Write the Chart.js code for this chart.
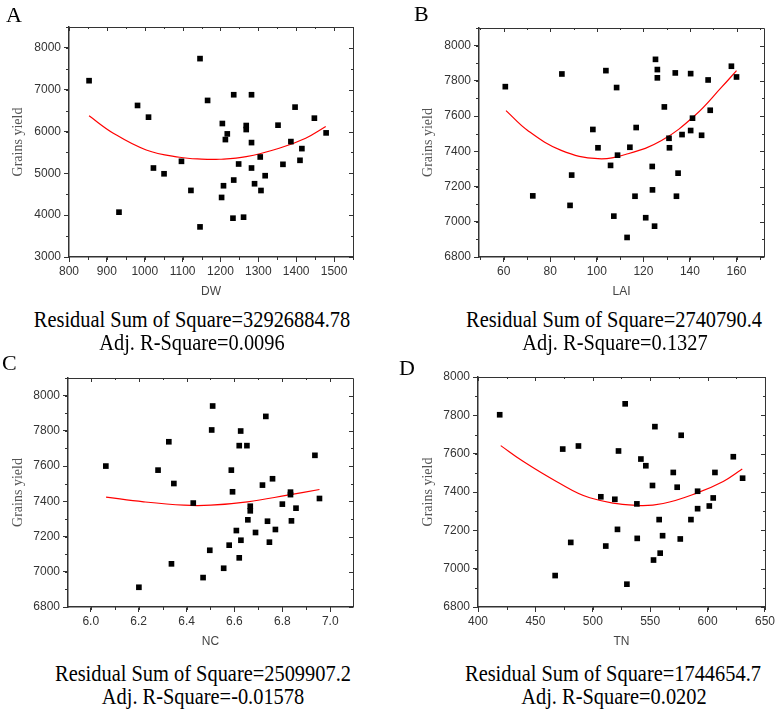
<!DOCTYPE html>
<html>
<head>
<meta charset="utf-8">
<script src="https://cdn.jsdelivr.net/npm/chart.js@4/dist/chart.umd.min.js"></script>
<style>
  html, body { margin: 0; padding: 0; background: #fff; }
  #page { position: relative; width: 777px; height: 712px; overflow: hidden; }
  canvas { position: absolute; }
  .letter, .note { position: absolute; font-family: "Liberation Serif", "Times New Roman", serif; color: #000; line-height: 1; white-space: nowrap; }
  .letter { font-size: 22px; }
  /* the printed captions are a little narrower than plain Times */
  .note { font-size: 24px; transform: translateX(-50%) scaleX(0.85); }
</style>
</head>
<body>
<div id="page">
  <canvas id="chartA" width="388" height="305" style="left:0;top:0"></canvas>
  <canvas id="chartB" width="367" height="305" style="left:410px;top:0"></canvas>
  <canvas id="chartC" width="388" height="305" style="left:0;top:350px"></canvas>
  <canvas id="chartD" width="367" height="305" style="left:410px;top:350px"></canvas>

  <div class="letter" style="left:6px;top:4px">A</div>
  <div class="letter" style="left:414px;top:3px">B</div>
  <div class="letter" style="left:2px;top:352px">C</div>
  <div class="letter" style="left:399px;top:357px">D</div>

  <div class="note" style="left:192px;top:307px">Residual Sum of Square=32926884.78</div>
  <div class="note" style="left:192px;top:330px">Adj. R-Square=0.0096</div>
  <div class="note" style="left:614px;top:307px">Residual Sum of Square=2740790.4</div>
  <div class="note" style="left:615px;top:330px">Adj. R-Square=0.1327</div>
  <div class="note" style="left:203px;top:661px">Residual Sum of Square=2509907.2</div>
  <div class="note" style="left:203px;top:684px">Adj. R-Square=-0.01578</div>
  <div class="note" style="left:613px;top:661px">Residual Sum of Square=1744654.7</div>
  <div class="note" style="left:614px;top:684px">Adj. R-Square=0.0202</div>
</div>

<script>
// A: DW vs grains yield
const dwX = [853, 932, 981, 1010, 1023, 1051, 1097, 1122, 1146, 1146, 1166, 1205, 1203, 1208, 1213, 1218, 1235, 1235, 1233, 1248,
  1261, 1268, 1268, 1282, 1282, 1282, 1290, 1305, 1307, 1318, 1352, 1365, 1386, 1397, 1410, 1415, 1448, 1479];
const dwY = [7216, 4072, 6624, 6344, 5128, 4990, 5288, 4592, 7744, 3720, 6744, 6192, 4424, 4704, 5808, 5944, 6880, 4840, 3928, 5224,
  3952, 6144, 6048, 6880, 5736, 5128, 4752, 5392, 4590, 4944, 6152, 5216, 5760, 6584, 5312, 5592, 6320, 5968];
const dwFitX = [853, 917, 1004, 1092, 1150, 1197, 1268, 1355, 1425, 1478];
const dwFitY = [6376, 5961, 5560, 5385, 5340, 5337, 5399, 5601, 5841, 6119];
const dwTicks = [800, 900, 1000, 1100, 1200, 1300, 1400, 1500];
const yTicksA = [3000, 4000, 5000, 6000, 7000, 8000];

// B: LAI vs grains yield
const laiX = [60.7, 72.5, 85, 88.5, 89.2, 98.3, 100.5, 103.9, 105.9, 107.3, 108.5, 108.9, 113, 114.2, 116.4, 116.9, 121, 123.8, 123.9,
  124.8, 125.2, 126, 126, 129, 131, 131.2, 133.7, 134.2, 134.9, 136.6, 140.3, 140.3, 141.1, 145, 147.8, 148.7, 157.8, 160];
const laiY = [7767, 7147, 7839, 7093, 7265, 7524, 7420, 7858, 7320, 7032, 7762, 7378, 6911, 7423, 7145, 7535, 7023, 7314, 7181,
  6975, 7922, 7864, 7817, 7652, 7474, 7420, 7845, 7145, 7276, 7495, 7841, 7518, 7588, 7491, 7805, 7633, 7883, 7822];
const laiFitX = [61, 70.3, 84.7, 100.5, 113.4, 127.8, 142.1, 153.6, 160];
const laiFitY = [7631, 7518, 7405, 7358, 7386, 7461, 7603, 7764, 7858];
const laiTicks = [60, 80, 100, 120, 140, 160];

// C: NC vs grains yield
const ncX = [6.063, 6.201, 6.281, 6.326, 6.337, 6.347, 6.428, 6.469, 6.497, 6.505, 6.509, 6.555, 6.578, 6.587, 6.592, 6.608, 6.620,
  6.620, 6.626, 6.627, 6.652, 6.656, 6.666, 6.666, 6.688, 6.717, 6.731, 6.738, 6.746, 6.759, 6.771, 6.800, 6.834, 6.834, 6.838,
  6.857, 6.936, 6.955];
const ncY = [7600, 6912, 7577, 7738, 7045, 7501, 7390, 6967, 7122, 7805, 7941, 7020, 7151, 7577, 7454, 7234, 7716,
  7079, 7799, 7179, 7716, 7295, 7372, 7346, 7223, 7492, 7882, 7287, 7168, 7528, 7240, 7384, 7452, 7438, 7289,
  7361, 7661, 7416];
const ncFitX = [6.064, 6.221, 6.389, 6.501, 6.654, 6.822, 6.955];
const ncFitY = [7424, 7397, 7378, 7378, 7397, 7435, 7467];
const ncTicks = [6.0, 6.2, 6.4, 6.6, 6.8, 7.0];

// D: TN vs grains yield
const tnX = [418.9, 467.2, 473.8, 480.8, 487.5, 507, 511.3, 519.2, 521.5, 522.4, 528.2, 529.7, 538.4, 538.7, 541.9, 546.2, 552,
  552.9, 554.1, 557.8, 558.7, 560.8, 570.1, 573.5, 576.2, 577, 585.5, 591.3, 591.3, 601.5, 604.9, 606.4, 622.4, 630.5];
const tnY = [7803, 6964, 7624, 7137, 7640, 7375, 7118, 7362, 7205, 7614, 7860, 6919, 7338, 7158, 7572, 7537, 7434,
  7045, 7741, 7256, 7081, 7172, 7502, 7425, 7155, 7696, 7256, 7313, 7404, 7327, 7369, 7502, 7584, 7472];
const tnFitX = [419.8, 439.2, 468.3, 497.4, 538.1, 561.3, 590.4, 613.6, 630.2];
const tnFitY = [7642, 7560, 7455, 7370, 7330, 7340, 7394, 7455, 7520];
const tnTicks = [400, 450, 500, 550, 600, 650];

// shared y ticks for B, C, D
const yTicksBCD = [6800, 7000, 7200, 7400, 7600, 7800, 8000];

const INK = "#333";

// box around the plot, inward ticks on top/right, minor ticks everywhere
const framePlugin = {
  id: "frame",
  afterDraw(chart, args, opts) {
    const { ctx, chartArea: a, scales: { x, y } } = chart;
    ctx.save();
    ctx.strokeStyle = INK;
    ctx.lineWidth = 1;
    ctx.beginPath();
    ctx.moveTo(a.left, a.top + 0.5);
    ctx.lineTo(a.right + 0.5, a.top + 0.5);
    ctx.lineTo(a.right + 0.5, a.bottom);
    ctx.stroke();

    ctx.beginPath();
    x.ticks.forEach(t => {
      const px = Math.round(x.getPixelForValue(t.value)) + 0.5;
      ctx.moveTo(px, a.top); ctx.lineTo(px, a.top + 4);
    });
    y.ticks.forEach(t => {
      const py = Math.round(y.getPixelForValue(t.value)) + 0.5;
      ctx.moveTo(a.right, py); ctx.lineTo(a.right - 4, py);
    });
    for (let v = Math.ceil(x.min / opts.xMinor) * opts.xMinor; v <= x.max; v += opts.xMinor) {
      const px = Math.round(x.getPixelForValue(v)) + 0.5;
      ctx.moveTo(px, a.bottom); ctx.lineTo(px, a.bottom + 3);
      ctx.moveTo(px, a.top); ctx.lineTo(px, a.top + 2);
    }
    for (let v = Math.ceil(y.min / opts.yMinor) * opts.yMinor; v <= y.max; v += opts.yMinor) {
      const py = Math.round(y.getPixelForValue(v)) + 0.5;
      ctx.moveTo(a.left, py); ctx.lineTo(a.left - 3, py);
      ctx.moveTo(a.right, py); ctx.lineTo(a.right - 2, py);
    }
    ctx.stroke();
    ctx.restore();
  }
};

function makePanel(id, xs, ys, fitX, fitY, ax) {
  const el = document.getElementById(id);
  if (!el) return;
  const sans = { family: "'Liberation Sans', Arial, sans-serif", size: 12 };
  try {
    new Chart(el, {
      type: "scatter",
      data: {
        datasets: [
          {
            data: xs.map((v, i) => ({ x: v, y: ys[i] })),
            pointStyle: "rect",
            pointRadius: 4,
            pointBorderWidth: 0,
            backgroundColor: "#000",
            borderColor: "#000"
          },
          {
            type: "line",
            data: fitX.map((v, i) => ({ x: v, y: fitY[i] })),
            borderColor: "#ff0000",
            borderWidth: 1.2,
            pointRadius: 0,
            tension: 0.4,
            fill: false
          }
        ]
      },
      options: {
        responsive: false,
        animation: false,
        devicePixelRatio: 1,
        layout: { padding: { top: ax.padTop, right: ax.padRight, left: 0, bottom: 0 } },
        plugins: {
          legend: { display: false },
          tooltip: { enabled: false },
          frame: { xMinor: ax.xMinor, yMinor: ax.yMinor }
        },
        scales: {
          x: {
            type: "linear",
            min: ax.xMin, max: ax.xMax,
            afterBuildTicks: s => { s.ticks = ax.xTicks.map(v => ({ value: v })); },
            afterFit: s => { s.height = 48; },
            border: { display: true, color: INK, width: 1.5 },
            grid: { drawOnChartArea: false, drawTicks: true, tickLength: 5, color: INK },
            ticks: {
              autoSkip: false, maxRotation: 0, padding: 2, color: INK, font: sans,
              callback: v => ax.xDigits ? Number(v).toFixed(ax.xDigits) : String(v)
            },
            title: {
              display: true, text: ax.xTitle, color: "#444", font: sans,
              padding: { top: 0, bottom: 6 }
            }
          },
          y: {
            type: "linear",
            min: ax.yMin, max: ax.yMax,
            afterBuildTicks: s => { s.ticks = ax.yTicks.map(v => ({ value: v })); },
            afterFit: s => { s.width = ax.yWidth; },
            border: { display: true, color: INK, width: 1.5 },
            grid: { drawOnChartArea: false, drawTicks: true, tickLength: 5, color: INK },
            ticks: {
              autoSkip: false, padding: 3, color: INK, font: sans,
              callback: v => String(v)
            },
            title: {
              display: true, text: "Grains yield", color: "#555",
              font: { family: "'Liberation Serif', 'Times New Roman', serif", size: 14 },
              padding: { top: 10, bottom: 0 }
            }
          }
        }
      },
      plugins: [framePlugin]
    });
  } catch (e) {
    console.error("panel " + id + " failed:", e);
  }
}

makePanel("chartA", dwX, dwY, dwFitX, dwFitY, {
  xMin: 800, xMax: 1550, xTicks: dwTicks, xMinor: 50, xTitle: "DW",
  yMin: 3000, yMax: 8500, yTicks: yTicksA, yMinor: 500,
  padTop: 27, padRight: 35, yWidth: 69
});
makePanel("chartB", laiX, laiY, laiFitX, laiFitY, {
  xMin: 49.4, xMax: 171.8, xTicks: laiTicks, xMinor: 10, xTitle: "LAI",
  yMin: 6800, yMax: 8100, yTicks: yTicksBCD, yMinor: 100,
  padTop: 28, padRight: 13, yWidth: 69
});
makePanel("chartC", ncX, ncY, ncFitX, ncFitY, {
  xMin: 5.905, xMax: 7.095, xTicks: ncTicks, xMinor: 0.1, xTitle: "NC", xDigits: 1,
  yMin: 6800, yMax: 8100, yTicks: yTicksBCD, yMinor: 100,
  padTop: 28, padRight: 35, yWidth: 68
});
makePanel("chartD", tnX, tnY, tnFitX, tnFitY, {
  xMin: 400, xMax: 650, xTicks: tnTicks, xMinor: 25, xTitle: "TN",
  yMin: 6800, yMax: 8000, yTicks: yTicksBCD, yMinor: 100,
  padTop: 27, padRight: 12, yWidth: 68
});
</script>
</body>
</html>
